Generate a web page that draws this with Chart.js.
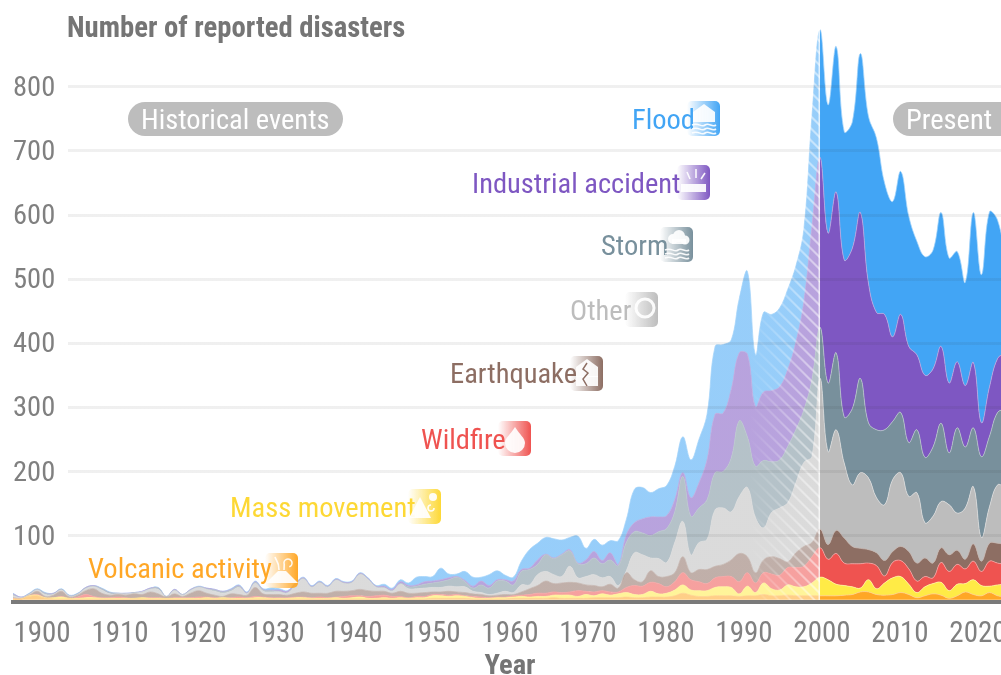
<!DOCTYPE html>
<html>
<head>
<meta charset="utf-8">
<title>Number of reported disasters</title>
<script src="https://cdn.jsdelivr.net/npm/chart.js@4"></script>
<style>
  html, body { margin: 0; padding: 0; background: #fff; overflow: hidden; width: 1001px; height: 675px; }
  canvas { display: block; }
</style>
</head>
<body>
<canvas id="chart" width="1007" height="675"></canvas>
<script>
const years = [
  1900,1901,1902,1903,1904,1905,1906,1907,1908,1909,
  1910,1911,1912,1913,1914,1915,1916,1917,1918,1919,
  1920,1921,1922,1923,1924,1925,1926,1927,1928,1929,
  1930,1931,1932,1933,1934,1935,1936,1937,1938,1939,
  1940,1941,1942,1943,1944,1945,1946,1947,1948,1949,
  1950,1951,1952,1953,1954,1955,1956,1957,1958,1959,
  1960,1961,1962,1963,1964,1965,1966,1967,1968,1969,
  1970,1971,1972,1973,1974,1975,1976,1977,1978,1979,
  1980,1981,1982,1983,1984,1985,1986,1987,1988,1989,
  1990,1991,1992,1993,1994,1995,1996,1997,1998,1999,
  2000,2001,2002,2003,2004,2005,2006,2007,2008,2009,
  2010,2011,2012,2013,2014,2015,2016,2017,2018,2019,
  2020,2021,2022,2023
];

// Top edge of each band (bands are drawn bottom to top)
const volcanicTop = [
  1,1,5,6,2,1,1,1,1,1,
  1,1,1,1,1,1,1,1,1,1,
  1,1,1,1,1,1,1,1,1,1,
  1,1,1,1,1,1,1,1,1,1,
  1,1,1,1,1,1,1,1,1,1,
  1,1,2,2,2,2,2,1,1,1,
  1,1,2,2,2,2,2,3,2,2,
  2,2,3,3,3,3,4,3,3,4,
  4,4,6,10,7,5,5,6,6,6,
  5,6,6,8,6,6,7,6,6,6,
  6,6,6,7,8,12,12,8,7,8,
  11,8,3,6,9,7,2,6,12,8,
  6,11,6,5
];
const massMovementTop = [
  1,1,6,7,3,3,4,2,2,3,
  3,2,2,2,2,2,3,2,2,2,
  2,2,2,2,3,2,3,2,2,2,
  3,3,2,2,2,3,3,2,2,2,
  3,2,3,4,2,2,3,2,3,2,
  3,3,6,6,5,6,5,3,2,2,
  3,3,4,5,4,5,5,7,7,7,
  5,8,6,9,7,9,11,8,8,13,
  9,10,15,23,15,14,14,19,20,19,
  9,21,11,26,17,15,23,20,20,26,
  35,31,24,22,20,18,31,17,26,34,
  36,24,11,20,25,27,14,24,25,31,
  22,21,23,24
];
const wildfireTop = [
  2,1,6,8,3,3,5,2,4,8,
  5,3,3,4,3,2,3,3,3,2,
  3,3,3,4,4,3,3,3,4,3,
  5,4,3,3,3,4,4,3,4,3,
  4,5,6,6,5,6,7,5,5,3,
  5,5,8,8,7,8,6,5,4,3,
  4,4,6,7,8,10,10,12,11,12,
  14,13,12,14,12,12,19,22,21,27,
  25,20,28,42,31,28,25,34,36,36,
  28,42,26,42,40,38,50,50,52,67,
  81,63,72,57,56,56,57,53,37,58,
  61,48,29,36,34,58,44,55,48,60,
  44,60,57,55
];
const earthquakeTop = [
  3,2,7,13,5,7,13,4,7,14,
  17,10,7,8,7,9,8,12,9,4,
  9,5,10,14,10,7,5,9,8,7,
  19,9,8,8,7,10,12,10,10,10,
  13,13,14,16,14,13,13,10,13,10,
  10,11,12,12,13,12,11,9,8,6,
  7,8,8,12,17,22,29,25,26,27,
  26,23,22,20,24,18,42,31,28,45,
  36,36,42,67,42,47,47,52,55,62,
  72,67,42,62,67,64,59,73,83,89,
  110,86,108,96,83,80,78,73,61,75,
  83,75,57,65,57,81,70,77,63,87,
  60,88,88,86
];
const otherTop = [
  6,3,8,15,8,8,15,5,8,17,
  20,15,9,9,9,10,12,16,16,4,
  14,7,14,19,16,13,10,13,19,9,
  25,13,12,12,10,22,32,19,26,19,
  30,25,26,39,31,19,18,13,24,17,
  17,18,19,19,21,20,20,13,11,8,
  10,13,11,23,23,39,44,39,36,52,
  34,36,39,34,36,22,45,73,70,65,
  64,58,89,122,70,89,94,140,143,137,
  161,175,128,112,136,143,151,182,214,223,
  345,231,265,213,179,198,190,159,148,187,
  198,161,167,120,130,153,148,135,143,176,
  97,145,179,175
];
const stormTop = [
  8,3,9,16,10,9,16,6,9,18,
  21,17,11,10,9,11,12,17,18,5,
  15,8,15,20,17,15,12,15,21,10,
  27,15,14,13,11,24,33,20,27,20,
  31,26,27,40,32,20,19,14,25,20,
  21,24,26,28,31,35,28,18,23,18,
  29,29,23,44,47,55,70,64,70,76,
  56,56,65,56,62,53,89,106,104,100,
  106,111,137,192,130,143,156,198,200,221,
  279,254,208,217,215,218,239,265,296,343,
  425,338,385,285,298,345,276,265,265,278,
  292,245,265,222,238,275,229,268,238,268,
  223,255,292,297
];
const industrialTop = [
  9,4,9,16,10,10,16,6,9,19,
  22,17,11,10,10,11,13,18,18,5,
  16,8,16,20,18,16,13,16,22,11,
  28,16,15,15,13,25,34,21,28,21,
  32,27,28,41,33,21,21,16,28,22,
  23,28,29,31,34,36,30,21,29,22,
  31,31,29,47,49,62,71,65,71,78,
  57,62,75,61,73,55,101,120,126,129,
  129,131,156,198,159,182,218,289,291,328,
  385,383,301,324,326,332,359,401,465,582,
  690,572,636,530,548,604,494,448,445,410,
  445,395,382,350,360,395,338,371,334,370,
  276,332,376,385
];
const floodTop = [
  10,4,10,17,11,10,17,7,10,19,
  22,18,12,10,10,11,13,18,19,5,
  16,8,16,21,18,16,13,17,23,12,
  29,17,18,17,14,26,35,22,29,22,
  33,28,29,42,34,22,24,18,31,26,
  35,36,36,49,40,40,44,35,35,39,
  45,38,35,60,78,88,97,95,93,97,
  99,80,94,85,92,92,125,172,175,167,
  173,178,208,254,218,250,289,395,398,405,
  470,512,382,448,445,455,484,520,578,754,
  889,772,863,730,745,852,754,720,650,621,
  668,598,559,535,545,604,533,543,495,604,
  507,605,592,530
];
const yTicksShown = [100, 200, 300, 400, 500, 600, 700, 800];

const PRESENT_YEAR = 2000;
const CONDENSED = '"Roboto Condensed", "Liberation Sans Narrow", Roboto, sans-serif';

// Horizontal paint with a hard step at 2000
function stepPaint(before, after) {
  return (context) => {
    const { chart } = context;
    if (!chart.chartArea) return after;
    const { left, right } = chart.chartArea;
    const stop = (chart.scales.x.getPixelForValue(PRESENT_YEAR) - left) / (right - left);
    const g = chart.ctx.createLinearGradient(left, 0, right, 0);
    g.addColorStop(0, before);
    g.addColorStop(stop, before);
    g.addColorStop(stop, after);
    g.addColorStop(1, after);
    return g;
  };
}

function band(label, tops, rgb, fill) {
  const pale = rgb.split(",").map((v) => Math.round((+v + 255) / 2)).join(",");
  return {
    label,
    data: tops.map((y, i) => ({ x: years[i], y })),
    backgroundColor: stepPaint(`rgba(${rgb},0.55)`, `rgb(${rgb})`),
    borderColor: `rgba(${pale},0.9)`,
    borderWidth: 0.8,
    pointRadius: 0,
    tension: 0.4,
    fill
  };
}

const datasets = [
  band("Volcanic activity", volcanicTop, "255,167,38", "origin"),
  band("Mass movement", massMovementTop, "255,235,70", "-1"),
  band("Wildfire", wildfireTop, "239,83,80", "-1"),
  band("Earthquake", earthquakeTop, "141,110,99", "-1"),
  band("Other", otherTop, "189,189,189", "-1"),
  band("Storm", stormTop, "120,144,156", "-1"),
  band("Industrial accident", industrialTop, "126,87,194", "-1"),
  band("Flood", floodTop, "66,165,245", "-1")
];

// Small white pictures inside the label badges
const glyphs = {
  house(c, x, y) {
    c.beginPath();
    c.moveTo(x + 17, y + 3); c.lineTo(x + 28, y + 11); c.lineTo(x + 28, y + 21); c.lineTo(x + 6, y + 21); c.lineTo(x + 6, y + 11);
    c.closePath(); c.fill();
  },
  waves(c, x, y, top) {
    c.beginPath();
    for (let r = 0; r < 3; r++) {
      const wy = y + top + r * 4;
      c.moveTo(x + 5, wy);
      c.bezierCurveTo(x + 12, wy - 3, x + 14, wy + 3, x + 18, wy);
      c.bezierCurveTo(x + 22, wy - 3, x + 25, wy + 3, x + 29, wy);
    }
    c.stroke();
  },
  Flood(c, x, y) { glyphs.house(c, x, y); glyphs.waves(c, x, y, 24); },
  "Industrial accident"(c, x, y) {
    c.fillRect(x + 4, y + 19, 25, 8);
    c.beginPath();
    c.moveTo(x + 10, y + 7); c.lineTo(x + 13, y + 14);
    c.moveTo(x + 19, y + 4); c.lineTo(x + 19, y + 13);
    c.moveTo(x + 28, y + 8); c.lineTo(x + 24, y + 14);
    c.stroke();
  },
  Storm(c, x, y) {
    c.beginPath();
    c.arc(x + 13, y + 12, 5, 0, Math.PI * 2); c.arc(x + 19, y + 9, 6, 0, Math.PI * 2); c.arc(x + 25, y + 13, 4.5, 0, Math.PI * 2);
    c.fill();
    c.fillRect(x + 12, y + 12, 14, 5);
    glyphs.waves(c, x, y, 23);
  },
  Other(c, x, y) {
    c.lineWidth = 3;
    c.beginPath(); c.arc(x + 20, y + 16, 9, 0, Math.PI * 2); c.stroke();
  },
  Earthquake(c, x, y) {
    glyphs.house(c, x, y);
    c.fillRect(x + 6, y + 20, 22, 10);
    c.strokeStyle = "#8d6e63";
    c.lineWidth = 1.5;
    c.beginPath();
    c.moveTo(x + 17, y + 7); c.lineTo(x + 13, y + 13); c.lineTo(x + 18, y + 17); c.lineTo(x + 13, y + 23); c.lineTo(x + 17, y + 30);
    c.stroke();
  },
  Wildfire(c, x, y) {
    c.beginPath();
    c.moveTo(x + 17, y + 6);
    c.bezierCurveTo(x + 22, y + 14, x + 27, y + 17, x + 27, y + 22);
    c.arc(x + 17, y + 22, 10, 0, Math.PI);
    c.bezierCurveTo(x + 7, y + 17, x + 12, y + 14, x + 17, y + 6);
    c.fill();
  },
  "Mass movement"(c, x, y) {
    c.beginPath();
    c.moveTo(x + 1, y + 29); c.lineTo(x + 12, y + 8); c.lineTo(x + 23, y + 29);
    c.closePath(); c.fill();
    c.beginPath(); c.arc(x + 25, y + 8, 4, 0, Math.PI * 2); c.fill();
    c.beginPath(); c.arc(x + 23, y + 19, 3, 0, Math.PI * 1.5); c.stroke();
  },
  "Volcanic activity"(c, x, y) {
    c.beginPath();
    c.moveTo(x + 1, y + 30); c.lineTo(x + 13, y + 18); c.lineTo(x + 21, y + 18); c.lineTo(x + 33, y + 30);
    c.closePath(); c.fill();
    c.beginPath();
    c.moveTo(x + 14, y + 17); c.bezierCurveTo(x + 14, y + 8, x + 11, y + 8, x + 10, y + 4);
    c.moveTo(x + 19, y + 17); c.arc(x + 23, y + 10, 4, Math.PI * 0.9, Math.PI * 2.4);
    c.stroke();
  }
};

// Where each label and its badge sit
const labelSpots = [
  { name: "Flood", color: "#42a5f5", rgb: "66,165,245", left: 632, cy: 119, bx: 687, by: 101 },
  { name: "Industrial accident", color: "#7e57c2", rgb: "126,87,194", left: 472, cy: 183, bx: 677, by: 165 },
  { name: "Storm", color: "#78909c", rgb: "120,144,156", left: 601, cy: 245, bx: 660, by: 227 },
  { name: "Other", color: "#bdbdbd", rgb: "189,189,189", left: 570, cy: 310, bx: 625, by: 292 },
  { name: "Earthquake", color: "#8d6e63", rgb: "141,110,99", left: 450, cy: 373, bx: 570, by: 356 },
  { name: "Wildfire", color: "#ef5350", rgb: "239,83,80", left: 421, cy: 439, bx: 498, by: 421 },
  { name: "Mass movement", color: "#fdd835", rgb: "253,216,53", left: 230, cy: 507, bx: 408, by: 489 },
  { name: "Volcanic activity", color: "#ffa726", rgb: "255,167,38", left: 88, cy: 568, bx: 265, by: 553 }
];

function roundBox(c, x, y, w, h, r) {
  c.beginPath();
  c.roundRect(x, y, w, h, r);
  c.fill();
}

function putText(c, str, left, cy, font, color) {
  c.font = font;
  c.fillStyle = color;
  c.textAlign = "left";
  c.textBaseline = "middle";
  c.fillText(str, left, cy + 3);
}

// Diagonal stripes fading in towards 2000, plus the white line at 2000
const presentMark = {
  id: "presentMark",
  afterDatasetsDraw(chart) {
    const c = chart.ctx;
    const xEnd = chart.scales.x.getPixelForValue(PRESENT_YEAR);
    const { top, bottom } = chart.chartArea;
    c.save();
    c.globalCompositeOperation = "source-atop";
    c.beginPath();
    c.rect(xEnd - 90, top, 90, bottom - top);
    c.clip();
    const fade = c.createLinearGradient(xEnd - 70, 0, xEnd, 0);
    fade.addColorStop(0, "rgba(255,255,255,0)");
    fade.addColorStop(1, "rgba(255,255,255,0.5)");
    c.strokeStyle = fade;
    c.lineWidth = 2;
    c.beginPath();
    for (let off = -700; off < 700; off += 12) {
      c.moveTo(xEnd + off - 100, bottom - 700);
      c.lineTo(xEnd + off - 100 + 700, bottom);
    }
    c.stroke();
    c.strokeStyle = "rgba(255,255,255,0.7)";
    c.lineWidth = 3;
    c.beginPath();
    c.moveTo(xEnd, top);
    c.lineTo(xEnd, bottom);
    c.stroke();
    c.restore();
  }
};

const annotations = {
  id: "annotations",
  afterDraw(chart) {
    const c = chart.ctx;
    c.save();
    putText(c, "Number of reported disasters", 67, 27, `bold 28.7px ${CONDENSED}`, "#757575");

    // period pills
    c.fillStyle = "#bdbdbd";
    roundBox(c, 128, 102, 215, 34, 17);
    putText(c, "Historical events", 141, 119, `28.5px ${CONDENSED}`, "#fff");
    c.fillStyle = "#bdbdbd";
    roundBox(c, 893, 102, 130, 34, 17);
    putText(c, "Present", 906, 119, `28.5px ${CONDENSED}`, "#fff");

    labelSpots.forEach((s) => {
      putText(c, s.name, s.left, s.cy, `28.5px ${CONDENSED}`, s.color);
      const g = c.createLinearGradient(s.bx, 0, s.bx + 33, 0);
      g.addColorStop(0, `rgba(${s.rgb},0)`);
      g.addColorStop(1, `rgba(${s.rgb},1)`);
      c.fillStyle = g;
      roundBox(c, s.bx, s.by, 33, 35, 5);
      c.save();
      c.fillStyle = "rgba(255,255,255,0.92)";
      c.strokeStyle = "rgba(255,255,255,0.92)";
      c.lineWidth = 1.6;
      glyphs[s.name](c, s.bx, s.by);
      c.restore();
    });
    c.restore();
  }
};

new Chart(document.getElementById("chart"), {
  type: "line",
  data: { datasets },
  plugins: [presentMark, annotations],
  options: {
    responsive: false,
    animation: false,
    layout: { padding: { left: 13, right: 0, top: 0, bottom: 0 } },
    plugins: { legend: { display: false }, tooltip: { enabled: false }, title: { display: false } },
    scales: {
      // data scale
      x: { type: "linear", display: false, min: 1900, max: 2023.17 },
      // the year labels run on a slightly different spacing than the data
      yearAxis: {
        type: "linear",
        axis: "x",
        position: "bottom",
        min: 1896.28,
        max: 2023.72,
        afterFit(scale) { scale.height = 73.5; scale.paddingLeft = 0; scale.paddingRight = 0; },
        grid: { display: false, drawTicks: false },
        border: { display: true, color: "#7a7a7a", width: 4, z: 2 },
        ticks: {
          stepSize: 10,
          includeBounds: false,
          autoSkip: false,
          maxRotation: 0,
          padding: 15.5,
          color: "#808080",
          font: { family: CONDENSED, size: 29 },
          callback: (v) => String(v)
        },
        title: {
          display: true,
          text: "Year",
          color: "#757575",
          font: { family: CONDENSED, size: 28.5, weight: "bold" },
          padding: { top: 0, bottom: -9 }
        }
      },
      y: {
        position: "left",
        min: -2.9,
        max: 935.5,
        afterBuildTicks(scale) { scale.ticks = yTicksShown.map((value) => ({ value })); },
        afterFit(scale) { scale.width = 0; scale.paddingTop = 0; scale.paddingBottom = 0; },
        border: { display: false },
        grid: {
          z: 1,
          drawTicks: false,
          lineWidth: 3,
          color(context) {
            const { chart } = context;
            if (!chart.chartArea) return "rgba(40,40,40,0.07)";
            const { left, right } = chart.chartArea;
            const g = chart.ctx.createLinearGradient(left, 0, right, 0);
            const stop = 55 / (right - left);
            g.addColorStop(0, "rgba(40,40,40,0)");
            g.addColorStop(stop, "rgba(40,40,40,0)");
            g.addColorStop(stop, "rgba(40,40,40,0.07)");
            g.addColorStop(1, "rgba(40,40,40,0.07)");
            return g;
          }
        },
        ticks: {
          mirror: true,
          padding: 0,
          labelOffset: 2,
          color: "#808080",
          font: { family: CONDENSED, size: 28.5 },
          callback: (v) => String(v)
        }
      }
    }
  }
});
</script>
</body>
</html>
